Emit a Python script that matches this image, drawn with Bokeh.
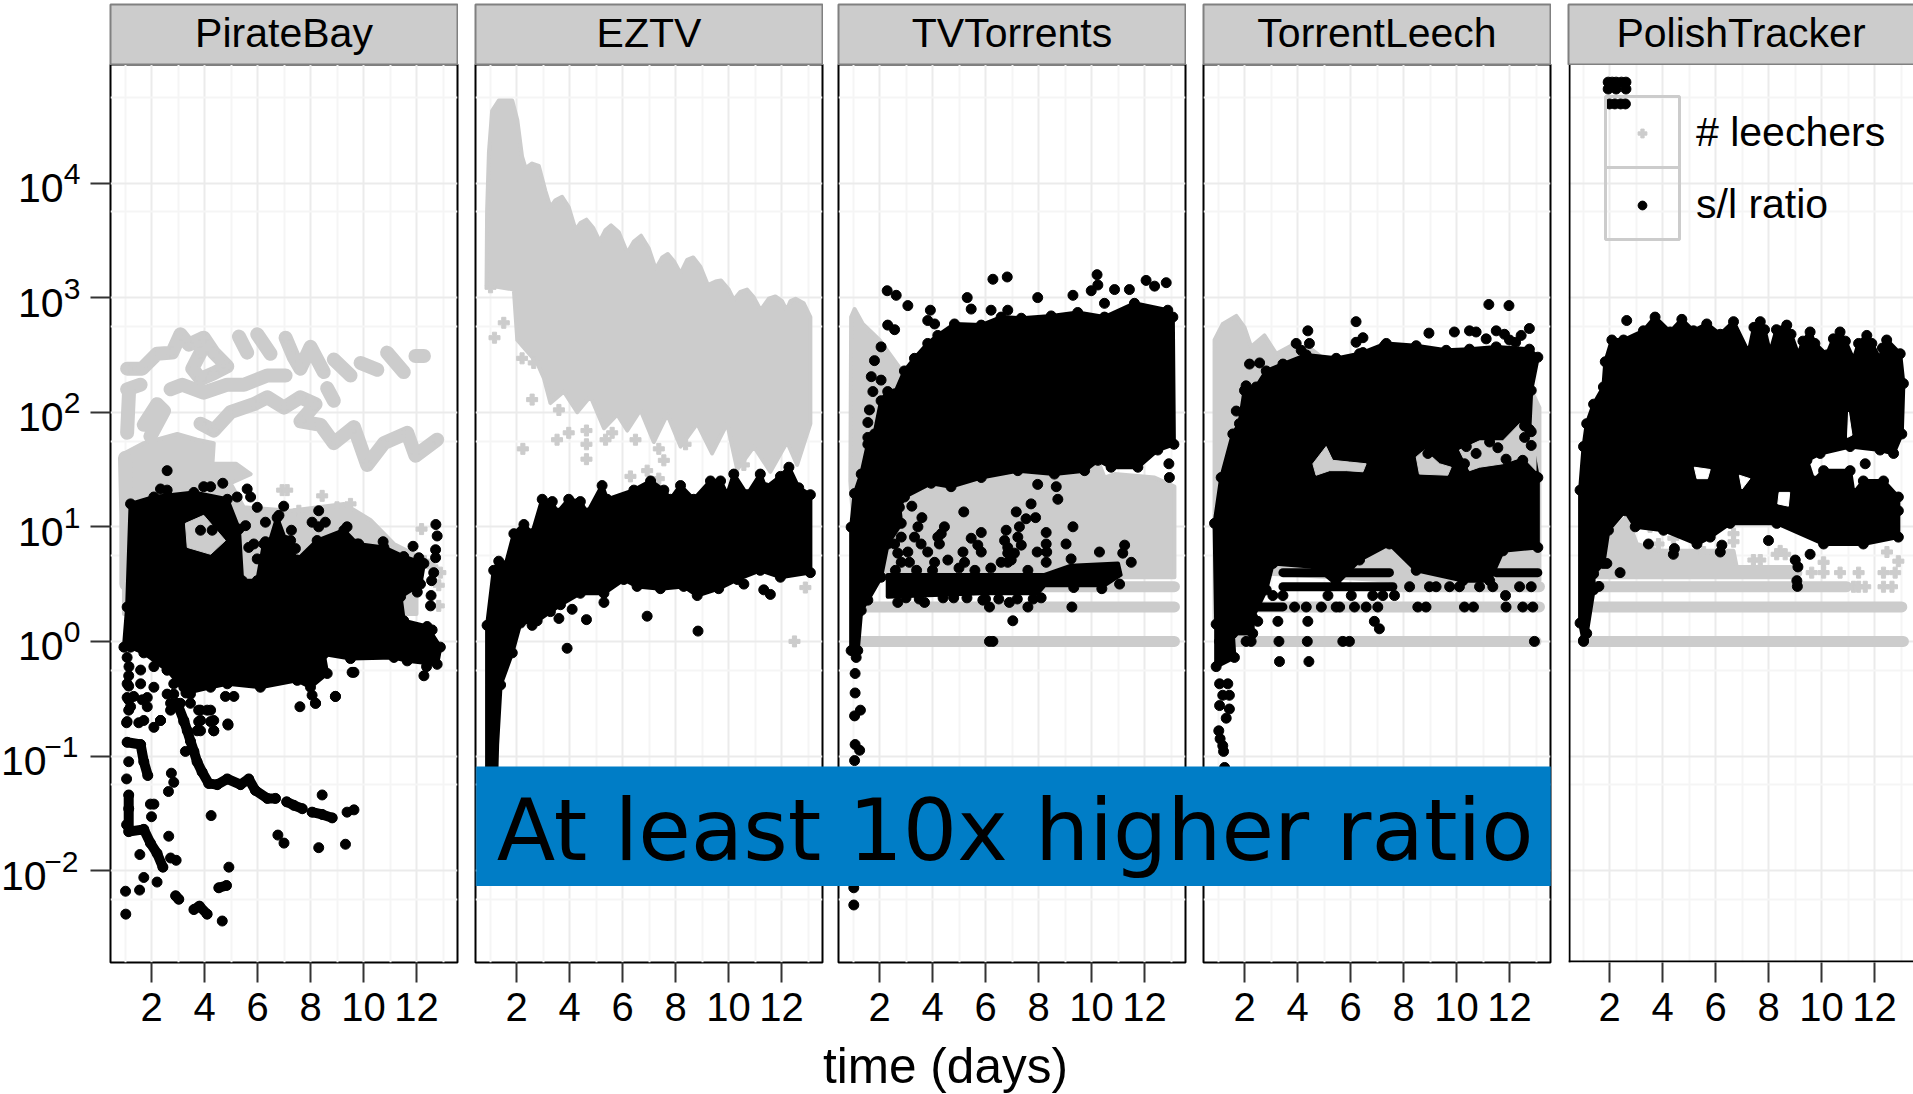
from bokeh.plotting import figure
from bokeh.layouts import row, column
from bokeh.models import (Range1d, FixedTicker, BoxAnnotation, Label, Span, Legend, LegendItem, ColumnDataSource)
from bokeh.core.properties import value
from bokeh.embed import file_html
from bokeh.resources import INLINE

TRACKERS = ["PirateBay", "EZTV", "TVTorrents", "TorrentLeech", "PolishTracker"]
DAY_TICKS = [2, 4, 6, 8, 10, 12]
DAY_MINOR = [1, 3, 5, 7, 9, 11, 13]
EXPONENTS = [4, 3, 2, 1, 0, -1, -2]
EXP_TEXT = ["4", "3", "2", "1", "0", "\u22121", "\u22122"]

# All pairs are (day, log10 of the value).
# ---------- PirateBay
pb_grey_mass = [(.96,1.64),(1.71,1.73),(2.97,1.81),(3.72,1.76),(4.35,1.73),(4.3,1.55),(5.2,1.55),(5.74,1.46),(4.98,1.38),(5.48,1.17),(7.25,1.14),(9.26,1.2),(10.26,1.06),(11.15,.85),(12.0,.75),(12.0,.24),(.96,.24)]
pb_grey_a1 = [(1.08,2.38),(1.65,2.38),(2.21,2.51),(2.78,2.52),(3.09,2.68),(3.41,2.59),(3.97,2.65),(4.35,2.52),(4.86,2.40),(4.35,2.34),(3.85,2.29),(3.54,2.38),(3.85,2.52)]
pb_grey_a2 = [(5.30,2.66),(5.61,2.52)]
pb_grey_a3 = [(5.99,2.68),(6.49,2.51)]
pb_grey_a4 = [(7.06,2.65),(7.37,2.48),(7.62,2.38),(8.0,2.57),(8.50,2.35)]
pb_grey_a5 = [(8.88,2.46),(9.51,2.32)]
pb_grey_a6 = [(9.89,2.43),(10.52,2.37)]
pb_grey_a7 = [(10.89,2.52),(11.52,2.35)]
pb_grey_a8 = [(11.96,2.49),(12.28,2.49)]
pb_grey_b1 = [(1.08,2.2),(1.59,2.24)]
pb_grey_b2 = [(2.72,2.2),(3.16,2.24),(3.97,2.17),(4.86,2.24),(5.49,2.24),(6.37,2.32),(7.06,2.32)]
pb_grey_b3 = [(8.63,2.21),(8.88,2.10)]
pb_grey_c1 = [(1.08,1.82),(1.15,2.17)]
pb_grey_c2 = [(1.71,1.89),(2.21,2.07),(2.47,2.01),(1.96,1.79)]
pb_grey_c3 = [(3.85,1.90),(4.35,1.84),(4.98,2.0),(5.86,2.07),(6.37,2.13),(7.0,2.04),(7.62,2.13),(8.19,2.07),(7.62,1.92),(8.38,1.89),(8.88,1.73),(9.64,1.87),(10.14,1.54),(10.77,1.73),(11.65,1.82),(11.96,1.62),(12.78,1.76)]
pb_grey_c4 = [(1.0,1.6),(1.05,1.1),(1.05,.5)]
pb_grey_pts = [(6.93,1.32),(7.12,1.32),(8.44,1.27),(7.56,1.14),(9.0,1.17),(9.51,1.2),(12.19,.98),(12.84,.49),(12.84,.31),(12.3,.7),(12.6,.65),(12.9,.6)]
pb_black_mass = [(1.08,.30),(1.21,1.20),(2.09,1.26),(3.6,1.30),(4.86,1.24),(5.3,.98),(5.42,.53),(5.99,.53),(6.24,.85),(6.36,.79),(6.74,1.08),(7.06,.88),(7.5,.71),(8.25,.88),(9.26,.97),(9.76,.85),(10.77,.82),(11.52,.74),(12.28,.68),(12.15,.50),(11.4,.39),(11.52,.18),(12.4,.13),(12.9,-.05),(12.78,-.2),(11.65,-.17),(11.15,-.14),(9.51,-.15),(8.5,-.11),(8.63,-.28),(8.0,-.4),(7.5,-.34),(6.11,-.40),(4.86,-.37),(4.23,-.40),(3.3,-.45),(2.97,-.35),(2.59,-.25),(1.71,-.1),(1.21,-.05),(.96,-.05)]
pb_grey_hole = [(3.28,1.03),(3.97,1.10),(4.79,.88),(4.23,.76),(3.35,.82)]
pb_black_chain1 = [(2.97,-.54),(3.22,-.69),(3.35,-.78),(3.47,-.87),(3.6,-.96),(3.72,-1.05),(3.91,-1.14),(4.16,-1.24),(4.48,-1.25),(4.86,-1.2),(5.36,-1.25),(5.67,-1.2),(5.92,-1.3),(6.37,-1.37),(6.68,-1.37)]
pb_black_chain2 = [(7.1,-1.40),(7.37,-1.43),(7.69,-1.46)]
pb_black_chain3 = [(8.06,-1.49),(8.44,-1.51),(8.82,-1.54)]
pb_black_chain4 = [(1.14,-1.34),(1.14,-1.46),(1.14,-1.66),(1.71,-1.64),(1.96,-1.76),(2.21,-1.85),(2.43,-1.97)]
pb_black_chain5 = [(1.08,-.88),(1.59,-.9),(1.71,-1.05),(1.86,-1.17)]
pb_black_chain6 = [(3.6,-2.34),(3.81,-2.31),(4.1,-2.38)]
pb_black_chain7 = [(4.54,-2.15),(4.83,-2.13)]
pb_black_chain8 = [(2.91,-2.22),(3.03,-2.25)]
pb_black_pts = [(5.61,1.33),(5.74,1.26),(5.23,1.26),(4.69,1.38),(3.97,1.35),(4.23,1.35),(2.59,1.49),(2.34,1.33),(2.59,1.32),(5.99,1.17),(6.3,1.04),(5.55,1.01),(5.86,.85),(5.67,.82),(6.3,.87),(5.99,.72),(6.81,1.1),(6.99,1.18),(7.28,.97),(7.25,.88),(7.43,.81),(8.31,1.14),(8.06,1.04),(8.56,1.04),(8.31,1.0),(9.38,1.0),(9.13,.91),(10.74,.87),(9.82,.85),(11.87,.83),(11.4,.72),(12.09,.73),(12.03,.43),(12.73,1.02),(12.78,.92),(12.72,.80),(12.72,.73),(12.65,.60),(12.57,.53),(12.55,.40),(12.53,.31),(12.59,.10),(12.38,-.22),(12.28,-.30),(9.57,-.27),(8.94,-.48),(8.19,-.54),(8.06,-.47),(5.11,-.48),(4.79,-.48),(4.88,-.72),(3.85,.97),(4.29,.97),
 (1.14,-.30),(1.14,-.39),(1.14,-.51),(1.14,-.60),(1.65,-.51),(1.33,-.48),(1.06,-.71),(1.52,-.71),(2.09,-.75),(2.34,-.69),(2.72,-.60),(3.28,-.96),(8.44,-1.34),(9.32,-1.77),(8.31,-1.8),(7,-1.76),(6.77,-1.69),(4.25,-1.52),(2.64,-1.31),(2.84,-1.23),(2.75,-1.15),(1.96,-1.42),(2.09,-1.42),(2.0,-1.53),(1.06,-1.2),(1.14,-1.05),(1.06,-1.6),(2.72,-1.89),(2.93,-1.91),(1.56,-1.86),(2.65,-1.7),(1.71,-2.06),(2.21,-2.1),(1.02,-2.18),(1.55,-2.17),(1.03,-2.38),(4.67,-2.44),(4.92,-1.97),(3.85,-.6),(3.85,-.69),(4.23,-.6),(4.35,-.69),(3.72,-.78),(4.35,-.78),(4.89,-.73),(7.6,-.57),(8.19,-.54),(8.94,-.48),(9.38,-1.49),(9.64,-1.47),(9.64,-.27),
 (1.08,-.14),(1.15,-.22),(1.59,-.25),(2.09,-.22),(2.59,-.25),(1.08,-.37),(1.59,-.37),(2.09,-.40),(2.84,-.37),(3.22,-.40),(3.47,-.46),(3.09,-.54),(2.72,-.54),(2.84,-.46),(1.08,-.49),(1.84,-.49),(1.21,-.57),(1.84,-.57),(1.08,-.70),(1.71,-.69),(2.34,-.69),(3.22,-.70),(3.85,-.78),(4.35,-.78),(4.1,-.60),(3.78,-.60),(4.23,-.70),(3.78,-.70),(3.47,-.54),(2.59,-.46)]

# ---------- EZTV
ez_grey_top = [(.87,3.11),(.89,3.75),(.96,4.27),(1.08,4.63),(1.33,4.72),(1.84,4.72),(2.03,4.55),(2.21,4.23),(2.34,4.13),(2.59,4.17),(2.84,4.15),(3.09,3.93),(3.28,3.79),(3.47,3.85),(3.72,3.88),(3.97,3.79),(4.23,3.59),(4.41,3.65),(4.64,3.68),(4.89,3.61),(5.14,3.49),(5.36,3.59),(5.57,3.63),(5.86,3.57),(6.18,3.39),(6.43,3.49),(6.70,3.54),(6.99,3.43),(7.25,3.25),(7.50,3.35),(7.71,3.38),(7.96,3.31),(8.19,3.21),(8.44,3.33),(8.67,3.35),(8.94,3.27),(9.22,3.11),(9.51,3.14),(9.72,3.15),(10.01,3.07),(10.2,2.98),(10.45,3.05),(10.7,3.07),(10.96,3.0),(11.21,2.89),(11.52,2.99),(11.77,3.01),(12.02,2.97),(12.19,2.89),(12.34,2.97),(12.53,2.99),(12.84,2.95),(13.09,2.83)]
ez_grey_low = [(.87,3.11),(1.9,3.07),(2.03,2.63),(2.78,2.43),(3.03,2.3),(3.28,2.08),(3.79,2.18),(4.29,2.0),(4.79,2.14),(5.3,1.86),(5.8,1.98),(6.18,1.84),(6.68,2.02),(7.18,1.74),(7.69,1.98),(8.19,1.70),(8.82,1.90),(9.38,1.64),(9.95,1.90),(10.33,1.50),(10.96,1.70),(11.58,1.48),(12.21,1.74),(12.59,1.54),(13.09,1.90)]
ez_grey_pts = [(1.02,3.09),(1.52,2.78),(1.17,2.65),(2.21,2.47),(2.65,2.43),(2.59,2.11),(3.6,2.02),(2.24,1.68),(3.53,1.76),(3.97,1.82),(4.64,1.84),(4.64,1.72),(4.64,1.59),(5.36,1.76),(5.61,1.82),(6.49,1.76),(6.3,1.44),(6.93,1.49),(7.37,1.68),(7.56,1.58),(7.37,1.42),(8.38,1.72),(12.9,.47),(12.49,0.0),(10.58,1.54)]
ez_black_top = [(.89,.14),(1.14,.62),(1.33,.70),(1.58,.66),(1.9,.94),(2.28,1.02),(2.59,.94),(2.97,1.24),(3.35,1.22),(3.53,1.12),(3.97,1.24),(4.41,1.22),(4.67,1.12),(5.23,1.36),(5.42,1.24),(6.43,1.32),(7.06,1.40),(7.56,1.32),(7.81,1.24),(8.19,1.36),(8.69,1.24),(9.32,1.40),(9.7,1.40),(9.95,1.28),(10.2,1.46),(10.7,1.28),(11.2,1.46),(11.4,1.34),(11.96,1.44),(12.28,1.52),(12.65,1.34),(13.09,1.28)]
ez_black_low = [(13.09,.60),(11.96,.56),(11.2,.62),(10.33,.54),(9.63,.46),(8.82,.40),(8.31,.48),(7.43,.46),(6.55,.48),(6.05,.54),(5.3,.42),(4.41,.42),(3.66,.32),(2.78,.18),(2.15,.16),(1.84,-.1),(1.4,-.38),(1.27,-.9),(1.21,-1.4),(.89,-1.4)]
ez_black_pts = [(3.28,.26),(3.6,.2),(4.1,.28),(4.64,.19),(5.3,.34),(6.93,.22),(8.85,.09),(3.91,-.06),(2.59,.14),(10.58,.5),(11.33,.45),(11.58,.41)]

# ---------- TVTorrents
tv_grey_mass = [(.9,1.40),(.93,2.83),(1.06,2.90),(1.37,2.77),(2.0,2.63),(2.94,2.33),(2.94,1.58),(10.24,1.58),(10.49,1.43),(10.87,1.46),(12.38,1.43),(13.13,1.35),(13.13,.56),(1.18,.56),(.93,1.29)]
tv_grey_bar_value = [.477, .301, 0.0]
tv_grey_bar_from = [2.94, 1.31, 1.18]
tv_grey_bar_to = [13.13, 13.13, 13.13]
tv_black_mass = [(1.31,1.46),(1.56,1.72),(1.81,1.81),(2.06,2.10),(2.31,2.18),(2.57,2.16),(2.94,2.36),(3.32,2.47),(3.82,2.60),(4.2,2.67),(4.83,2.77),(5.84,2.76),(6.59,2.83),(7.35,2.82),(8.48,2.84),(9.48,2.87),(10.49,2.83),(11.62,2.95),(12.88,2.89),(13.07,2.83),(13.11,1.72),(12.5,1.67),(11.75,1.52),(10.74,1.52),(10.24,1.58),(9.74,1.49),(8.6,1.46),(7.22,1.49),(5.84,1.43),(4.7,1.35),(3.95,1.38),(2.94,1.26),(2.75,1.17),(2.82,1.03),(2.31,.85),(2.06,.56),(1.56,.36),(1.31,.27),(1.18,-.08),(.93,-.08),(.93,.997),(1.06,1.29)]
tv_black_band = [(2.31,.39),(2.31,.58),(8.23,.58),(9.23,.66),(11.0,.68),(11.1,.58),(10.49,.49),(8.23,.49),(7.97,.42),(5.84,.42)]
tv_black_pts = [(2.29,3.06),(2.63,3.02),(3.07,2.93),(3.92,2.89),(3.82,2.80),(4.08,2.77),(2.31,2.76),(2.57,2.72),(6.28,3.16),(6.82,3.18),(10.21,3.20),(7.97,3.00),(5.31,3.00),(5.46,2.90),(6.21,2.89),(6.84,2.89),(9.30,3.02),(9.99,3.06),(10.24,3.11),(10.87,3.07),(11.43,3.07),(12.06,3.15),(12.38,3.10),(12.82,3.13),(10.49,2.95),(2.06,2.57),(1.81,2.45),(1.69,2.31),(2.06,2.28),(1.75,2.18),(1.62,2.02),(1.56,1.91),(1.56,1.78),(12.92,1.55),(12.94,1.43),(7.97,1.37),(8.67,1.35),(8.73,1.24),(7.72,1.20),(3.22,1.18),(3.60,1.08),(5.18,1.13),(7.16,1.13),(7.53,1.07),(7.89,1.08),(7.28,1.0),(9.30,1.0),(3.45,1.0),(4.45,1.0),(4.2,.91),(5.84,.95),(5.46,.90),(8.29,.95),(6.78,.97),(7.22,.91),(5.71,.84),(5.84,.78),(9.04,.85),(8.29,.85),(7.95,.78),(8.31,.78),(5.15,.78),(3.07,.78),(3.82,.78),(6.84,.82),(11.25,.84),(11.18,.77),(11.5,.69),(10.3,.78),(9.23,.72),(8.29,.69),(5.21,.69),(4.58,.71),(3.13,.69),(6.84,.77),(6.84,.69),(11.06,.50),(10.39,.46),(9.33,.47),(2.69,.34),(3.70,.34),(5.90,.36),(6.9,.34),(6.15,.30),(7.6,.30),(9.26,.30),(7.03,.18),(6.15,0),(6.28,0),(1.12,-.14),(1.08,-.28),(1.08,-.45),(1.28,-.60),(1.06,-.65),(1.08,-.90),(1.25,-.95),(1.06,-1.04),(1.03,-2.15),(1.03,-2.30),(2.57,.85),(2.82,.91),(3.32,.91),(3.57,.85),(2.69,.77),(2.82,.69),(4.08,.69),(4.33,.94),(4.26,.85),(6.72,.88),(7.09,.77),(6.59,.69),(7.35,.84),(6.97,.71),
 (2.6,.62),(3.4,.62),(4.0,.62),(5.0,.64),(5.6,.62),(6.2,.64),(7.6,.62),(3.0,.38),(3.5,.37),(4.4,.38),(4.8,.38),(5.3,.38),(6.0,.37),(6.5,.37),(7.2,.37),(7.8,.37),(8.1,.38)]

# ---------- TorrentLeech
tl_grey_mass = [(.87,1.17),(.87,2.63),(1.18,2.77),(1.69,2.84),(2.0,2.74),(2.25,2.57),(2.75,2.67),(3.2,2.51),(3.76,2.58),(4.58,2.54),(4.96,2.47),(12.82,2.19),(13.13,2.04),(13.13,.53),(7.6,.53),(2.94,.59),(2.31,.30),(.87,.15)]
tl_grey_bar_value = [.477, .301, 0.0]
tl_grey_bar_from = [7.6, 2.31, 1.69]
tl_grey_bar_to = [13.13, 13.13, 13.0]
tl_black_mass = [(1.56,1.81),(1.81,1.90),(2.0,2.19),(2.44,2.22),(2.82,2.36),(3.45,2.42),(4.33,2.50),(5.46,2.47),(6.34,2.51),(7.35,2.60),(8.48,2.58),(9.61,2.54),(10.49,2.55),(11.5,2.57),(12.75,2.55),(13.07,2.48),(12.82,2.19),(12.75,1.85),(13.07,1.43),(13.07,.82),(11.75,.79),(11.25,.53),(10.24,.53),(8.48,.62),(7.47,.85),(6.34,.71),(5.46,.50),(4.7,.65),(3.07,.68),(2.82,.45),(2.31,.21),(2.31,.07),(1.56,.07),(1.62,-.14),(.93,-.22),(.93,.15),(.87,1.03),(1.12,1.43)]
tl_grey_hole1 = [(4.58,1.55),(5.08,1.70),(5.33,1.58),(6.59,1.55),(6.47,1.48),(5.84,1.49),(5.21,1.49),(4.7,1.45)]
tl_grey_hole2 = [(8.48,1.61),(8.79,1.67),(9.36,1.55),(9.8,1.52),(9.67,1.45),(8.6,1.46)]
tl_grey_hole3 = [(10.49,1.49),(10.11,1.67),(10.87,1.75),(11.75,1.75),(12.38,1.90),(13.0,1.84),(13.0,1.49),(12.5,1.61),(11.75,1.55),(10.87,1.52)]
tl_black_run_value = [.60, .60, .477, .301]
tl_black_run_from = [3.45, 11.5, 3.45, 2.44]
tl_black_run_to = [7.47, 13.07, 7.6, 3.45]
tl_black_pts = [(11.22,2.94),(11.98,2.93),(6.21,2.79),(4.39,2.71),(3.95,2.60),(4.45,2.60),(4.14,2.54),(6.21,2.61),(6.47,2.65),(2.19,2.42),(2.57,2.43),(1.69,2.01),(2.06,2.23),(8.96,2.69),(9.92,2.70),(10.49,2.71),(11.12,2.64),(11.5,2.71),(12,2.63),(12.44,2.67),(12.75,2.73),(10.74,2.70),(11.81,2.68),(12.23,2.61),(6.47,2.52),(7.28,2.58),(12.57,1.88),(12.82,1.83),(12.57,1.78),(12.82,1.71),(10.37,1.70),(10.74,1.64),(11.56,1.69),(11.25,1.74),(11.87,1.59),(10.3,1.55),(8.92,1.64),(5.46,1.64),(5.96,1.62),(12.5,1.58),
 (8.23,.477),(8.98,.477),(9.23,.477),(9.74,.477),(10.11,.477),(10.87,.477),(11.37,.477),(12.38,.477),(12.82,.477),
 (3.07,.40),(3.45,.40),(5.15,.40),(6.03,.40),(6.84,.40),(7.22,.40),(7.66,.40),(11.85,.40),
 (3.89,.30),(4.33,.30),(4.9,.30),(5.46,.30),(5.59,.30),(6.15,.30),(6.59,.30),(7.03,.30),(8.54,.30),(8.85,.30),(10.3,.30),(10.64,.30),(11.87,.30),(12.5,.30),(12.88,.30),
 (2.5,.175),(3.26,.175),(4.39,.175),(6.9,.175),(7.09,.11),
 (1.06,0),(2.06,0),(2.25,0),(3.3,0),(4.37,0),(5.71,0),(5.96,0),(12.94,0),(3.32,-.176),(4.43,-.176),
 (1.06,-.37),(1.37,-.37),(1.18,-.47),(1.43,-.47),(1.06,-.56),(1.43,-.59),(1.31,-.67),(1.03,-.78),(1.08,-.85),(1.18,-.91),(1.21,-.96),(1.25,-1.10)]

# ---------- PolishTracker
pt_grey_mass = [(1.52,.60),(1.9,.91),(2.65,1.09),(3.03,.85),(3.91,.79),(6.68,.79),(6.8,.65),(9.07,.65),(9.07,.56),(1.52,.56)]
pt_grey_bar_value = [.60, .477, .301, 0.0]
pt_grey_bar_from = [1.4, 1.4, 1.4, 1.02]
pt_grey_bar_to = [9.07, 10.95, 13.03, 13.09]
pt_grey_pts = [(3.53,1.0),(3.85,.85),(6.68,.94),(6.68,.87),(8.44,.79),(8.31,.76),(8.63,.76),(7.43,.71),(7.69,.71),(10.08,.69),(12.9,.70),(12.47,.78),(9.63,.60),(10.08,.60),(10.7,.60),(11.4,.60),(12.34,.60),(12.78,.60),(11.21,.477),(11.4,.477),(11.65,.477),(12.34,.477),(12.66,.477),(5.55,.78),(4.41,.90)]
pt_black_mass = [(1.02,1.70),(1.14,1.90),(1.40,2.07),(1.77,2.22),(1.84,2.44),(2.09,2.63),(2.53,2.63),(3.28,2.71),(3.72,2.83),(4.29,2.70),(4.73,2.81),(5.17,2.71),(5.67,2.77),(6.18,2.68),(6.68,2.79),(7.25,2.52),(7.45,2.74),(7.69,2.79),(7.85,2.72),(8.06,2.52),(8.3,2.72),(8.69,2.76),(8.85,2.68),(9.13,2.5),(9.3,2.62),(9.57,2.70),(9.75,2.6),(10.2,2.5),(10.45,2.64),(10.7,2.70),(10.9,2.62),(11.21,2.46),(11.4,2.6),(11.71,2.67),(11.9,2.6),(12.21,2.46),(12.3,2.56),(12.46,2.63),(12.97,2.51),(13.09,2.25),(13.03,1.81),(12.72,1.64),(12.21,1.67),(11.08,1.70),(9.95,1.64),(9.45,1.58),(9.70,1.40),(10.08,1.49),(11.08,1.49),(11.21,1.29),(11.58,1.40),(12.34,1.40),(12.9,1.26),(12.9,.91),(11.58,.85),(10.08,.85),(8.31,1.03),(6.55,1.03),(5.8,.91),(5.3,.85),(4.04,.97),(2.97,1.0),(2.59,1.14),(1.96,.97),(1.77,.68),(1.40,.59),(1.40,.45),(1.14,.07),(1.02,.01),(.89,.16),(.89,1.32)]
pt_white_gap1 = [(11.02,2.0),(11.15,1.8),(10.98,1.78)]
pt_white_gap2 = [(8.4,1.3),(8.8,1.3),(8.75,1.18),(8.35,1.2)]
pt_white_gap3 = [(5.2,1.52),(5.8,1.5),(5.7,1.42),(5.3,1.42)]
pt_white_gap4 = [(6.9,1.45),(7.3,1.42),(7.0,1.33)]
pt_black_pts = [(2.65,2.80),(3.47,.85),(4.45,.81),(4.41,.76),(6.24,.84),(6.18,.78),(1.9,.68),(2.40,.60),(8.0,.88),(9.57,.76),(9.01,.71),(9.11,.65),(9.07,.53),(9.09,.48),(1.6,.48),(1.02,0),(11.65,1.55),(12.9,1.14),
 (1.95,4.88),(2.1,4.88),(2.25,4.88),(2.45,4.88),(2.62,4.88),(1.95,4.82),(2.25,4.82),(2.62,4.82),(2.0,4.69),(2.2,4.69),(2.42,4.69),(2.6,4.69)]

KEY_LABELS = ["# leechers", "s/l ratio"]
GREY = "#cccccc"
BLACK = "#000000"
FONT = "Liberation Sans"

GUTTER = 90
FRAME_LEFT = [110, 475, 838, 1203, 1568]
FIG_LEFT = [GUTTER, 459, 824, 1187, 1552]
FIG_RIGHT = [459, 824, 1187, 1552, 1913]
PANEL_W = 347
PX_PER_DAY = 26.5
DEC = 114.6
FRAME_TOP, FRAME_BOTTOM = 64, 962


def log_at(py):
    return 4 - (py - 182.5) / DEC


def val_at(py):
    return 10 ** log_at(py)


y_range = Range1d(val_at(FRAME_BOTTOM), val_at(FRAME_TOP))
y_ticks = [10.0 ** e for e in EXPONENTS]
y_minor = [5.6 * 10.0 ** e for e in range(-3, 5)]


def X(pts):
    return [p[0] for p in pts]


def Y(pts):
    return [10.0 ** p[1] for p in pts]


def make_panel(i):
    fl = FRAME_LEFT[i]
    fr = min(fl + PANEL_W, 1913)
    tick2 = fl + 41

    def day_at(px):
        return 2 + (px - tick2) / PX_PER_DAY

    p = figure(width=FIG_RIGHT[i] - FIG_LEFT[i], height=1094, y_axis_type="log",
               x_range=Range1d(day_at(fl), day_at(fr)), y_range=y_range,
               toolbar_location=None, output_backend="svg",
               min_border_left=fl - FIG_LEFT[i], min_border_right=FIG_RIGHT[i] - fr,
               min_border_top=FRAME_TOP, min_border_bottom=1094 - FRAME_BOTTOM)
    p.background_fill_color = "white"
    p.border_fill_color = "white"
    if i < 4:
        p.outline_line_color = "black"
        p.outline_line_width = 2
    else:
        p.outline_line_color = None
        p.add_layout(Span(location=day_at(fl + 1), dimension="height", line_color="black", line_width=2))
        p.add_layout(Span(location=val_at(FRAME_BOTTOM - 1), dimension="width", line_color="black", line_width=2))

    p.xaxis.ticker = FixedTicker(ticks=DAY_TICKS, minor_ticks=DAY_MINOR)
    p.xgrid.ticker = FixedTicker(ticks=DAY_TICKS, minor_ticks=DAY_MINOR)
    p.yaxis.ticker = FixedTicker(ticks=y_ticks, minor_ticks=y_minor)
    p.ygrid.ticker = FixedTicker(ticks=y_ticks, minor_ticks=y_minor)
    for g in (p.xgrid, p.ygrid):
        g.grid_line_color = "#ebebeb"
        g.grid_line_width = 2
        g.minor_grid_line_color = "#f5f5f5"
        g.minor_grid_line_width = 2
    for ax in (p.xaxis, p.yaxis):
        ax.axis_line_color = None
        ax.major_tick_line_color = "#333333"
        ax.major_tick_line_width = 2
        ax.major_tick_in = 0
        ax.major_tick_out = 20
        ax.minor_tick_line_color = None
        ax.major_label_text_font = FONT
        ax.major_label_text_font_size = "40px"
        ax.major_label_text_color = "black"
    p.xaxis.major_label_standoff = 10
    p.yaxis.major_label_standoff = 0
    p.yaxis.major_label_overrides = {t: "" for t in y_ticks}
    if i > 0:
        p.yaxis.visible = False
    return p, day_at


def shape(p, pts, color, lw=4):
    p.patch(X(pts), Y(pts), fill_color=color, line_color=color, line_width=lw, line_join="round")


def strand(p, pts, color=GREY, lw=14):
    p.line(X(pts), Y(pts), line_color=color, line_width=lw, line_join="round", line_cap="round")


def bars(p, vals, x0, x1, color, lw):
    ys = [10.0 ** v for v in vals]
    p.segment(x0, ys, x1, ys, line_color=color, line_width=lw, line_cap="round")


def dots(p, grey=None, black=None):
    r = {}
    if grey:
        r["grey"] = p.scatter(X(grey), Y(grey), marker="plus", size=11, color=GREY)
    if black:
        r["black"] = p.scatter(X(black), Y(black), marker="circle", size=10, color=BLACK)
    return r


# gutter carrying the power-of-ten tick labels
gutter = figure(width=GUTTER, height=1094, y_axis_type="log", x_range=Range1d(0, GUTTER), y_range=y_range,
                toolbar_location=None, output_backend="svg", x_axis_location=None, y_axis_location=None,
                min_border_left=0, min_border_right=0, min_border_top=FRAME_TOP,
                min_border_bottom=1094 - FRAME_BOTTOM)
gutter.grid.visible = False
gutter.outline_line_color = None
tick_src = ColumnDataSource(dict(y=y_ticks, base=["10"] * len(y_ticks), exp=EXP_TEXT,
                                 x_exp=[80.0 if e >= 0 else 78.0 for e in EXPONENTS],
                                 x_base=[63.0 if e >= 0 else 46.0 for e in EXPONENTS]))
gutter.text(x="x_base", y="y", text="base", source=tick_src, text_font=value(FONT), text_font_size=value("41px"),
            text_align="right", text_baseline="alphabetic", y_offset=5, text_color="black")
gutter.text(x="x_exp", y="y", text="exp", source=tick_src, text_font=value(FONT), text_font_size=value("30px"),
            text_align="right", text_baseline="alphabetic", y_offset=-9, text_color="black")

panels = []
# PirateBay
p0, _ = make_panel(0)
shape(p0, pb_grey_mass, GREY)
for s in [pb_grey_a1, pb_grey_a2, pb_grey_a3, pb_grey_a4, pb_grey_a5, pb_grey_a6, pb_grey_a7, pb_grey_a8,
          pb_grey_b1, pb_grey_b2, pb_grey_b3, pb_grey_c1, pb_grey_c2, pb_grey_c3, pb_grey_c4]:
    strand(p0, s)
dots(p0, grey=pb_grey_pts + pb_grey_a1 + pb_grey_a4 + pb_grey_c3)
shape(p0, pb_black_mass, BLACK)
shape(p0, pb_grey_hole, GREY, lw=1)
chains = [pb_black_chain1, pb_black_chain2, pb_black_chain3, pb_black_chain4, pb_black_chain5,
          pb_black_chain6, pb_black_chain7, pb_black_chain8]
for s in chains:
    strand(p0, s, BLACK, 10)
dots(p0, black=pb_black_pts + pb_black_mass + [pt for c in chains for pt in c])
panels.append(p0)

# EZTV
p1, _ = make_panel(1)
shape(p1, ez_grey_top + ez_grey_low[::-1], GREY)
dots(p1, grey=ez_grey_pts)
shape(p1, ez_black_top + ez_black_low, BLACK)
dots(p1, black=ez_black_pts + ez_black_top + ez_black_low[:-3])
panels.append(p1)

# TVTorrents
p2, _ = make_panel(2)
shape(p2, tv_grey_mass, GREY)
bars(p2, tv_grey_bar_value, tv_grey_bar_from, tv_grey_bar_to, GREY, 11)
shape(p2, tv_black_mass, BLACK)
shape(p2, tv_black_band, BLACK)
dots(p2, black=tv_black_pts + tv_black_mass)
panels.append(p2)

# TorrentLeech
p3, _ = make_panel(3)
shape(p3, tl_grey_mass, GREY)
bars(p3, tl_grey_bar_value, tl_grey_bar_from, tl_grey_bar_to, GREY, 11)
shape(p3, tl_black_mass, BLACK)
for hole in [tl_grey_hole1, tl_grey_hole2, tl_grey_hole3]:
    shape(p3, hole, GREY, lw=1)
bars(p3, tl_black_run_value, tl_black_run_from, tl_black_run_to, BLACK, 9)
dots(p3, black=tl_black_pts + tl_black_mass)
panels.append(p3)

# PolishTracker
p4, day4 = make_panel(4)
shape(p4, pt_grey_mass, GREY)
bars(p4, pt_grey_bar_value, pt_grey_bar_from, pt_grey_bar_to, GREY, 11)
g4 = dots(p4, grey=pt_grey_pts)
shape(p4, pt_black_mass, BLACK)
for gap in [pt_white_gap1, pt_white_gap2, pt_white_gap3, pt_white_gap4]:
    shape(p4, gap, "white", lw=1)
b4 = dots(p4, black=pt_black_pts + pt_black_mass)
for top, bottom in [(96, 167), (167, 239)]:
    p4.add_layout(BoxAnnotation(left=day4(1605), right=day4(1679), top=val_at(top), bottom=val_at(bottom),
                                fill_alpha=0, line_color=GREY, line_alpha=1, line_width=3))
legend = Legend(items=[LegendItem(label=KEY_LABELS[0], renderers=[g4["grey"]]),
                       LegendItem(label=KEY_LABELS[1], renderers=[b4["black"]])],
                location=(63, FRAME_BOTTOM - 228), orientation="vertical",
                background_fill_alpha=0, border_line_color=None, padding=0, margin=0, spacing=25,
                glyph_width=22, glyph_height=22, label_height=22, label_standoff=43,
                label_text_font=FONT, label_text_font_size="41px", label_text_color="black")
p4.add_layout(legend)
panels.append(p4)


def overlay(w, h, left, top, bg, text, font, size, tx=0.5, ty=0.5, outline=None):
    f = figure(width=w, height=h, x_range=(0, 1), y_range=(0, 1), toolbar_location=None,
               output_backend="svg", min_border=1 if outline else 0, x_axis_location=None, y_axis_location=None,
               styles={"position": "absolute", "left": f"{left}px", "top": f"{top}px"})
    f.grid.visible = False
    f.outline_line_color = outline
    f.outline_line_width = 2
    f.background_fill_color = bg
    f.border_fill_color = bg if not outline else "white"
    f.add_layout(Label(x=tx, y=ty, text=text, text_font=font, text_font_size=size, text_color="black",
                       text_align="center", text_baseline="middle"))
    return f


strips = []
for i, name in enumerate(TRACKERS):
    w = 349 if i < 4 else 1913 - FRAME_LEFT[i] + 3
    cx = 0.5 if i < 4 else 173.5 / w
    strips.append(overlay(w, 62, FRAME_LEFT[i] - 1, 3, GREY, name, FONT, "41px", tx=cx, ty=0.52, outline="#808080"))

banner = overlay(1076, 120, 475, 766, "#007dc6", "At least 10x higher ratio", "DejaVu Sans", "85.5px", tx=0.5015, ty=0.47)
xtitle = overlay(320, 64, 785, 1033, "white", "time (days)", FONT, "49.5px")

layout = column(row(gutter, *panels, spacing=0), banner, xtitle, *strips, spacing=0,
                styles={"position": "absolute", "left": "0px", "top": "0px"})
open("out.html", "w").write(file_html(layout, INLINE))
